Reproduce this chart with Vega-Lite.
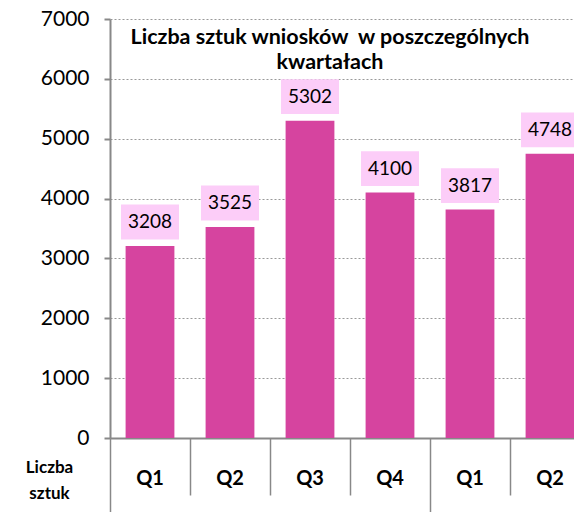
{
  "$schema": "https://vega.github.io/schema/vega-lite/v6.json",
  "width": 464,
  "height": 419,
  "autosize": {"type": "none"},
  "padding": {"left": 110, "top": 19, "right": 0, "bottom": 74},
  "background": "white",
  "config": {"view": {"stroke": null}, "font": "Lato"},
  "title": {
    "text": ["Liczba sztuk wniosków \u00a0w poszczególnych", "kwartałach"],
    "font": "Lato",
    "fontSize": 21.5,
    "fontWeight": "bold",
    "color": "black",
    "anchor": "middle",
    "frame": "group",
    "orient": "top",
    "baseline": "top",
    "lineHeight": 25,
    "offset": -65,
    "dx": -12
  },
  "data": {
    "values": [
      {"id": "2011 Q1", "v": 3208},
      {"id": "2011 Q2", "v": 3525},
      {"id": "2011 Q3", "v": 5302},
      {"id": "2011 Q4", "v": 4100},
      {"id": "2012 Q1", "v": 3817},
      {"id": "2012 Q2", "v": 4748}
    ]
  },
  "encoding": {
    "x": {
      "field": "id",
      "type": "nominal",
      "sort": null,
      "scale": {"range": [0, 480], "paddingInner": 0, "paddingOuter": 0},
      "axis": {
        "title": ["Liczba", "sztuk"],
        "titleFont": "Lato",
        "titleFontSize": 17,
        "titleFontWeight": "bold",
        "titleColor": "black",
        "titleX": -61,
        "titleY": 21,
        "titleAlign": "center",
        "titleBaseline": "top",
        "titleLineHeight": 26,
        "titleAngle": 0,
        "labelExpr": "split(datum.label, ' ')[1]",
        "labelAngle": 0,
        "labelFont": "Lato",
        "labelFontSize": 20,
        "labelFontWeight": "bold",
        "labelColor": "black",
        "labelPadding": {"condition": {"test": "indexof(['2011 Q1','2012 Q1'], datum.value) >= 0", "value": -44}, "value": -27},
        "bandPosition": 0,
        "domainColor": "#888888",
        "domainWidth": 2,
        "tickColor": "#888888",
        "tickWidth": 1.5,
        "tickSize": {"condition": {"test": "indexof(['2011 Q1','2012 Q1'], datum.value) >= 0", "value": 74}, "value": 57},
        "grid": false
      }
    },
    "y": {
      "field": "v",
      "type": "quantitative",
      "scale": {"domain": [0, 7000], "nice": false},
      "axis": {
        "title": null,
        "values": [0, 1000, 2000, 3000, 4000, 5000, 6000, 7000],
        "format": "d",
        "labelFont": "Lato",
        "labelFontSize": 21,
        "labelColor": "black",
        "labelPadding": 15,
        "domainColor": "#888888",
        "domainWidth": 2,
        "tickColor": "#888888",
        "tickWidth": 2,
        "tickSize": 6,
        "grid": true,
        "gridColor": "#999999",
        "gridDash": [2, 2],
        "gridWidth": 1
      }
    }
  },
  "layer": [
    {"mark": {"type": "bar", "color": "#D6449F", "width": {"band": 0.61}}},
    {
      "mark": {
        "type": "point",
        "filled": true,
        "shape": "M-1,-0.6H1V0.6H-1Z",
        "size": 3364,
        "color": "#FCCDF8",
        "opacity": 1,
        "yOffset": -24
      }
    },
    {
      "mark": {"type": "text", "dy": -24, "fontSize": 19, "font": "Lato", "color": "black", "baseline": "middle"},
      "encoding": {"text": {"field": "v", "type": "quantitative"}}
    }
  ]
}
